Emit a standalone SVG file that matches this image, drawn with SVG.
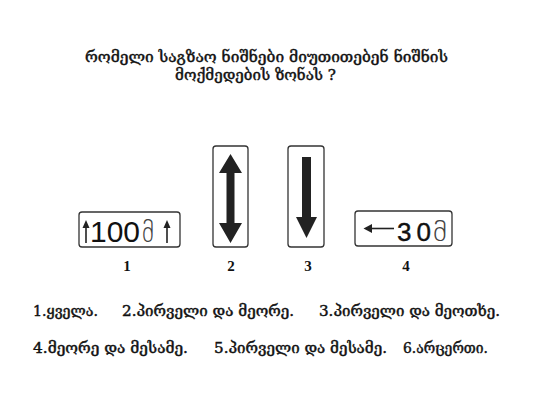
<svg xmlns="http://www.w3.org/2000/svg" width="533" height="400" viewBox="0 0 533 400">
<style>
.geo{font-family:"DejaVu Serif","DejaVu Sans",serif;fill:#111;stroke:#111;stroke-width:0.45}
.title{font-size:15.5px}
.opt{font-size:14.5px}
.num{font-family:"Liberation Serif",serif;font-weight:bold;font-size:15px;fill:#111;text-anchor:middle}
.plate{fill:#fff;stroke:#333;stroke-width:1.3}
.ink{fill:#222}
.thin{stroke:#222;stroke-width:1.6;fill:none}
.dig{font-family:"Liberation Sans",sans-serif;fill:#111}
.geosign{font-family:"DejaVu Sans",sans-serif;fill:#444}
</style>
<rect width="533" height="400" fill="#fff"/>
<g id="title">
<text class="geo title" x="85" y="62" textLength="363" lengthAdjust="spacingAndGlyphs">რომელი საგზაო ნიშნები მიუთითებენ ნიშნის</text>
<text class="geo title" x="175" y="80" textLength="161" lengthAdjust="spacingAndGlyphs">მოქმედების ზონას ?</text>
</g>
<g id="sign1">
<rect class="plate" x="79" y="212" width="101" height="35" rx="3"/>
<line class="thin" x1="86" y1="226" x2="86" y2="243"/>
<polygon class="ink" points="86,220 82.5,228 89.5,228"/>
<text class="dig" x="90" y="242" font-size="30" textLength="50" lengthAdjust="spacingAndGlyphs">100</text>
<text class="geosign" x="142" y="242" font-size="30" font-weight="200" textLength="12" lengthAdjust="spacingAndGlyphs">მ</text>
<line class="thin" x1="167" y1="226" x2="167" y2="243"/>
<polygon class="ink" points="167,220 163.5,228 170.5,228"/>
<text class="num" x="127" y="271">1</text>
</g>
<g id="sign2">
<rect class="plate" x="213" y="146" width="35" height="101" rx="3"/>
<polygon class="ink" points="230.5,154 242,173 234.5,173 234.5,223 242,223 230.5,243 219,223 226.5,223 226.5,173 219,173"/>
<text class="num" x="231" y="271">2</text>
</g>
<g id="sign3">
<rect class="plate" x="288" y="146" width="36" height="101" rx="3"/>
<polygon class="ink" points="302,157 311,157 311,217 317,217 306.5,238 296,217 302,217"/>
<text class="num" x="308" y="271">3</text>
</g>
<g id="sign4">
<rect class="plate" x="355" y="211" width="97" height="35" rx="3"/>
<line class="thin" x1="368" y1="228.5" x2="394" y2="228.5" stroke-width="2"/>
<polygon class="ink" points="363.5,228.5 372,224 372,233"/>
<text class="dig" x="397" y="241" font-size="26" stroke="#111" stroke-width="0.4" textLength="34" lengthAdjust="spacing">30</text>
<text class="geosign" x="433" y="241" font-size="27" font-weight="200" textLength="14" lengthAdjust="spacingAndGlyphs">მ</text>
<text class="num" x="406" y="271">4</text>
</g>
<g id="options">
<text class="geo opt" x="33" y="316" textLength="65" lengthAdjust="spacingAndGlyphs">1.ყველა.</text>
<text class="geo opt" x="122" y="316" textLength="172" lengthAdjust="spacingAndGlyphs">2.პირველი და მეორე.</text>
<text class="geo opt" x="319" y="316" textLength="181" lengthAdjust="spacingAndGlyphs">3.პირველი და მეოთხე.</text>
<text class="geo opt" x="33" y="353" textLength="155" lengthAdjust="spacingAndGlyphs">4.მეორე და მესამე.</text>
<text class="geo opt" x="214" y="353" textLength="173" lengthAdjust="spacingAndGlyphs">5.პირველი და მესამე.</text>
<text class="geo opt" x="403" y="353" textLength="85" lengthAdjust="spacingAndGlyphs">6.არცერთი.</text>
</g>
</svg>
